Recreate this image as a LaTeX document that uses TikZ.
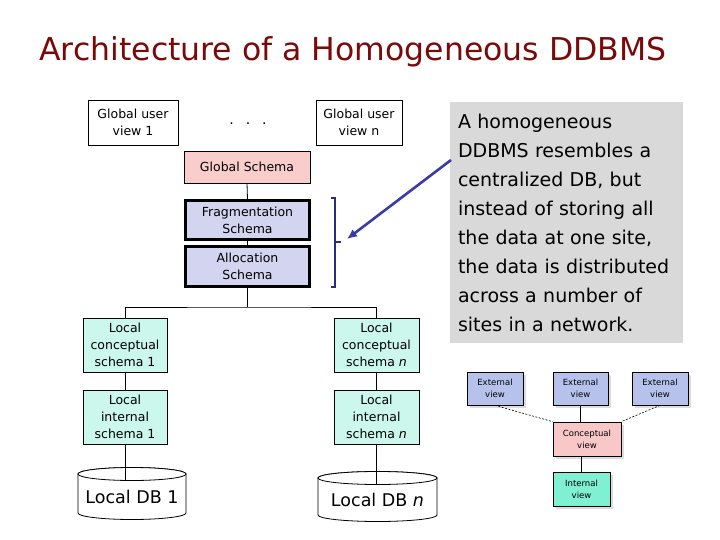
\documentclass[tikz,border=0pt]{standalone}
\usepackage{fontspec}
\setmainfont{DejaVu Sans}
\usetikzlibrary{shadows,arrows.meta}
\definecolor{titlered}{HTML}{7A0A0A}
\definecolor{gspink}{HTML}{FACDCD}
\definecolor{fraglav}{HTML}{D2D4F0}
\definecolor{localaqua}{HTML}{CCF7EC}
\definecolor{notegray}{HTML}{D9D9D9}
\definecolor{brnavy}{HTML}{2B2B80}
\definecolor{arblue}{HTML}{3A3AA8}
\definecolor{extblue}{HTML}{B6C2EC}
\definecolor{convpink}{HTML}{F8C8C8}
\definecolor{intmint}{HTML}{80F0D2}
\begin{document}
\begin{tikzpicture}[x=1pt,y=-1pt,
  box/.style={draw=black, line width=0.8pt, align=center, inner sep=0pt,
    font=\fontsize{12.5}{17}\selectfont},
  thickbox/.style={box, line width=3pt, fill=fraglav},
  localbox/.style={box, fill=localaqua, minimum width=84pt, minimum height=54pt},
  minibox/.style={draw=black, line width=0.7pt, align=center, inner sep=0pt,
    font=\fontsize{8.5}{12}\selectfont,
    drop shadow={shadow xshift=2.5pt, shadow yshift=-2.5pt, fill=gray!55}},
  link/.style={draw=black, line width=0.8pt},
  dlink/.style={draw=black, line width=0.6pt, dash pattern=on 2pt off 1.5pt},
  cyl/.style={draw=black, line width=0.8pt, fill=white}
]
\useasboundingbox (0,0) rectangle (720,540);

% title
\node[text=titlered, font=\fontsize{31.5}{36}\selectfont] (title) at (353,52) {Architecture of a Homogeneous DDBMS};

% global user views
\node[box, minimum width=90pt, minimum height=45pt] (gv1) at (133,122.5) {Global user\\view 1};
\node[font=\fontsize{14}{16}\selectfont] (dots) at (248,124) {.\hspace{12pt}.\hspace{12pt}.};
\node[box, minimum width=86pt, minimum height=45pt] (gvn) at (359,122.5) {Global user\\view n};

% global schema and fragmentation/allocation
\node[box, fill=gspink, minimum width=126pt, minimum height=32pt] (gs) at (247,167) {Global Schema};
\node[thickbox, minimum width=124pt, minimum height=39pt] (frag) at (247.5,220) {Fragmentation\\Schema};
\node[thickbox, minimum width=124pt, minimum height=40pt] (alloc) at (247.5,266.5) {Allocation\\Schema};
\draw[link] (gs.south) -- (frag.north);
\draw[link] (frag.south) -- (alloc.north);

% bracket
\draw[brnavy, line width=1.3pt] (331,198) -- (335,198) -- (335,287) -- (331,287);
\draw[brnavy, line width=1.3pt] (335,242) -- (341,242);
\coordinate (brtip) at (347,239);

% note
\node[fill=notegray, minimum width=233pt, minimum height=241pt, inner xsep=8pt,
  text width=217pt, align=left, font=\fontsize{19}{29}\selectfont] (note) at (566.5,222.5)
  {A homogeneous\\DDBMS resembles a\\centralized DB, but\\instead of storing all\\the data at one site,\\the data is distributed\\across a number of\\sites in a network.};
\coordinate (arstart) at (451,160);
\draw[arblue, line width=2.6pt, -{Latex[length=10pt,width=9pt]}] (arstart) -- (brtip);

% local schemas
\node[localbox] (lcs1) at (125,345) {Local\\conceptual\\schema 1};
\node[localbox, minimum width=85pt] (lcsn) at (376.5,345) {Local\\conceptual\\schema \textit{n}};
\node[localbox] (lis1) at (125,417) {Local\\internal\\schema 1};
\node[localbox, minimum width=85pt] (lisn) at (376.5,417) {Local\\internal\\schema \textit{n}};
\coordinate (split) at (247.5,307);
\draw[link] (alloc.south) -- (split);
\draw[link] (lcs1.north) |- (split) -| (lcsn.north);
\draw[link] (lcs1.south) -- (lis1.north);
\draw[link] (lcsn.south) -- (lisn.north);

% cylinders (y axis points down: angle 90 is downward)
\draw[cyl] (78,474) -- (78,513) arc[start angle=180, end angle=0, x radius=54, y radius=6.5]
  -- (186,474) arc[start angle=360, end angle=180, x radius=54, y radius=6.5] -- cycle;
\draw[cyl] (132,474) ellipse[x radius=54, y radius=6.5];
\coordinate (db1top) at (125,480.5);
\node[font=\fontsize{17.5}{20}\selectfont] (db1) at (132,497) {Local DB 1};

\draw[cyl] (318,478) -- (318,515) arc[start angle=180, end angle=0, x radius=59.5, y radius=6.5]
  -- (437,478) arc[start angle=360, end angle=180, x radius=59.5, y radius=6.5] -- cycle;
\draw[cyl] (377.5,478) ellipse[x radius=59.5, y radius=6.5];
\coordinate (dbntop) at (376.5,484.5);
\node[font=\fontsize{17.5}{20}\selectfont] (dbn) at (377.5,500) {Local DB \textit{n}};

\draw[link] (lis1.south) -- (db1top);
\draw[link] (lisn.south) -- (dbntop);

% three-level architecture mini diagram
\node[minibox, fill=extblue, minimum width=56pt, minimum height=33pt] (ev1) at (495,388.5) {External\\view};
\node[minibox, fill=extblue, minimum width=55pt, minimum height=33pt] (ev2) at (580.5,388.5) {External\\view};
\node[minibox, fill=extblue, minimum width=56pt, minimum height=33pt] (ev3) at (660,388.5) {External\\view};
\node[minibox, fill=convpink, minimum width=68pt, minimum height=34pt] (cv) at (587,439) {Conceptual\\view};
\node[minibox, fill=intmint, minimum width=57pt, minimum height=34pt] (iv) at (581.5,489) {Internal\\view};
\draw[dlink] (ev1.south) -- (cv.north west);
\draw[dlink] (ev3.south) -- (cv.north east);
\draw[link] (ev2.south) -- (ev2.south |- cv.north);
\draw[link] (iv.north) -- (iv.north |- cv.south);
\end{tikzpicture}
\end{document}
